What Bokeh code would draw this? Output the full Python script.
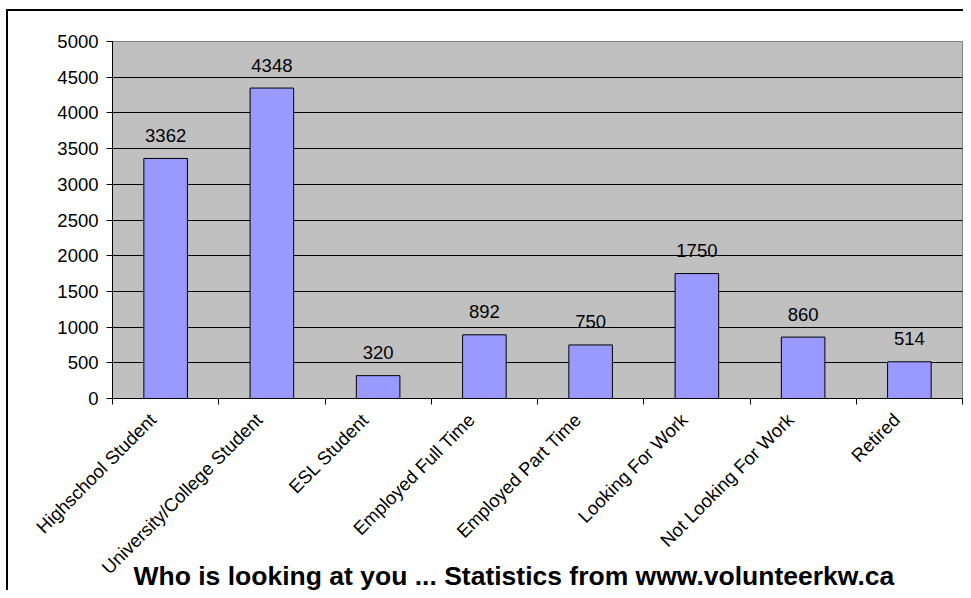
import math
from bokeh.plotting import figure
from bokeh.models import (Range1d, FixedTicker, SingleIntervalTicker, Title,
                          ColumnDataSource)
from bokeh.core.properties import value
from bokeh.embed import file_html
from bokeh.resources import INLINE

categories = ["Highschool Student", "University/College Student", "ESL Student",
              "Employed Full Time", "Employed Part Time", "Looking For Work",
              "Not Looking For Work", "Retired"]
counts = [3362, 4348, 320, 892, 750, 1750, 860, 514]
title_text = "Who is looking at you ... Statistics from www.volunteerkw.ca"

FONT = "Liberation Sans"
n = len(categories)
centers = [i + 0.5 for i in range(n)]
bounds = [float(i) for i in range(n + 1)]
label_pos = [c - 0.12 for c in centers]

src = ColumnDataSource(dict(x=centers, top=counts, lab=[str(c) for c in counts]))

p = figure(width=963, height=590, output_backend="svg", toolbar_location=None,
           x_range=Range1d(0, n), y_range=Range1d(0, 5000),
           min_border_left=112, min_border_right=1, min_border_top=41,
           min_border_bottom=192)
p.background_fill_color = "#C0C0C0"
p.border_fill_color = None
p.styles = {
    "background-color": "white",
    "background-image": "linear-gradient(black, black), linear-gradient(black, black)",
    "background-position": "6px 9px, 6px 9px",
    "background-size": "2px 100%, 100% 2px",
    "background-repeat": "no-repeat, no-repeat",
}
p.outline_line_color = "#808080"
p.outline_line_width = 1

p.vbar(x="x", top="top", width=0.41, bottom=0, source=src,
       fill_color="#9999FF", line_color="black", line_width=1)
p.text(x="x", y="top", text="lab", source=src, text_align="center",
       text_baseline="alphabetic", y_offset=-23,
       text_font=value(FONT), text_font_size="18.5px", text_color="black")

# y axis
p.yaxis.ticker = SingleIntervalTicker(interval=500)
p.yaxis.minor_tick_line_color = None
p.yaxis.major_tick_in = 0
p.yaxis.major_tick_out = 6
p.yaxis.major_label_standoff = 8
p.yaxis.major_label_text_font = FONT
p.yaxis.major_label_text_font_size = "18.5px"
p.yaxis.major_label_text_color = "black"
p.yaxis.axis_line_color = "black"
p.yaxis.major_tick_line_color = "black"

# x axis
p.xaxis.ticker = FixedTicker(ticks=label_pos, minor_ticks=bounds)
p.xaxis.major_label_overrides = {c: cat for c, cat in zip(label_pos, categories)}
p.xaxis.major_tick_in = 0
p.xaxis.major_tick_out = 0
p.xaxis.minor_tick_in = 0
p.xaxis.minor_tick_out = 6
p.xaxis.minor_tick_line_color = "black"
p.xaxis.major_label_orientation = math.pi / 4
p.xaxis.major_label_standoff = 12
p.xaxis.major_label_text_font = FONT
p.xaxis.major_label_text_font_size = "18.5px"
p.xaxis.major_label_text_color = "black"
p.xaxis.axis_line_color = "black"

p.xgrid.grid_line_color = None
p.ygrid.grid_line_color = "black"
p.ygrid.grid_line_width = 1

p.add_layout(Title(text=title_text, align="left", vertical_align="top",
                   offset=21, standoff=-56,
                   text_font=FONT, text_font_size="26.5px", text_font_style="bold",
                   text_color="black"), "below")

open("out.html", "w").write(file_html(p, INLINE))
